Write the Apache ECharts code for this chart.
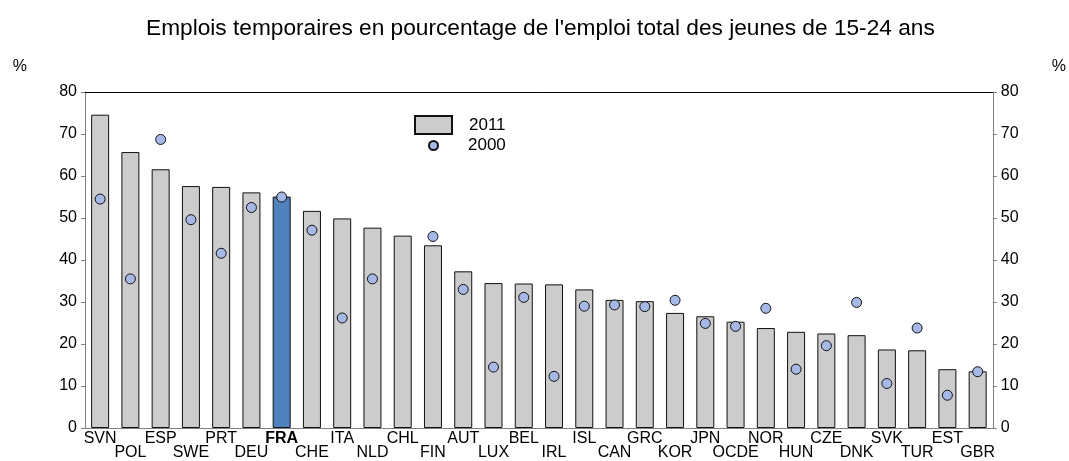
<!DOCTYPE html>
<html>
<head>
<meta charset="utf-8">
<script src="https://cdn.jsdelivr.net/npm/echarts@6/dist/echarts.min.js"></script>
<style>
  html, body { margin: 0; padding: 0; background: #fff; }
  #chart { width: 1069px; height: 461px; }
</style>
</head>
<body>
<div id="chart"></div>
<script>
// pays (OCDE = moyenne)
var countries = ['SVN', 'POL', 'ESP', 'SWE', 'PRT', 'DEU', 'FRA', 'CHE', 'ITA', 'NLD',
  'CHL', 'FIN', 'AUT', 'LUX', 'BEL', 'IRL', 'ISL', 'CAN', 'GRC', 'KOR',
  'JPN', 'OCDE', 'NOR', 'HUN', 'CZE', 'DNK', 'SVK', 'TUR', 'EST', 'GBR'];

// 2011 (barres)
var values2011 = [74.6, 65.7, 61.6, 57.6, 57.4, 56.1, 55.1, 51.7, 49.9, 47.7,
  45.8, 43.5, 37.3, 34.5, 34.4, 34.2, 33.0, 30.5, 30.2, 27.4,
  26.6, 25.3, 23.8, 22.9, 22.5, 22.1, 18.7, 18.5, 14.0, 13.5];

// 2000 (points), pas de donnée pour le Chili
var values2000 = [54.5, 35.5, 68.7, 49.6, 41.6, 52.5, 55.0, 47.1, 26.2, 35.5,
  null, 45.6, 33.0, 14.5, 31.1, 12.3, 29.0, 29.3, 28.9, 30.4,
  24.9, 24.2, 28.5, 14.0, 19.6, 29.9, 10.6, 23.8, 7.8, 13.4];

var yTicks = { min: 0, max: 80, interval: 10 };

var highlight = 'FRA';

var myChart = echarts.init(document.getElementById('chart'));

var font = 'Liberation Sans, Arial, sans-serif';

// barres : la France en bleu
var barData = values2011.map(function (v, i) {
    if (countries[i] === highlight) {
        return { value: v, itemStyle: { color: '#4f81bd' } };
    }
    return v;
});

var dotData = values2000.map(function (v) {
    return v === null ? '-' : v;
});

function yAxisFor(pos) {
    return {
        type: 'value',
        position: pos,
        min: yTicks.min,
        max: yTicks.max,
        interval: yTicks.interval,
        name: '%',
        nameLocation: 'end',
        nameGap: 17,
        nameTextStyle: pos === 'left'
            ? { color: '#000', fontSize: 16, fontFamily: font, align: 'right', padding: [0, 58, 0, 0] }
            : { color: '#000', fontSize: 16, fontFamily: font, align: 'left', padding: [0, 0, 0, 59] },
        axisLine: { show: true, lineStyle: { color: '#808080', width: 1 } },
        axisTick: { show: true, inside: false, length: 4, lineStyle: { color: '#808080' } },
        axisLabel: { color: '#000', fontSize: 16, fontFamily: font, margin: 8 },
        splitLine: { show: false }
    };
}

var option = {
    animation: false,
    title: {
        text: "Emplois temporaires en pourcentage de l'emploi total des jeunes de 15-24 ans",
        left: 141,
        top: 12,
        textStyle: { color: '#000', fontSize: 22.7, fontWeight: 'normal', fontFamily: font }
    },
    legend: [
        {
            data: ['2011'],
            left: 414,
            top: 115,
            padding: 0,
            itemWidth: 37,
            itemHeight: 18,
            icon: 'rect',
            textStyle: { color: '#000', fontSize: 17, fontFamily: font, padding: [0, 0, 0, 12] }
        },
        {
            data: ['2000'],
            left: 428,
            top: 137,
            padding: 0,
            itemWidth: 9,
            itemHeight: 9,
            icon: 'circle',
            textStyle: { color: '#000', fontSize: 17, fontFamily: font, padding: [0, 0, 0, 25] }
        }
    ],
    grid: {
        left: 85,
        right: 75,
        top: 92,
        bottom: 32
    },
    xAxis: [
        {
            type: 'category',
            data: countries,
            axisLine: { show: true, lineStyle: { color: '#808080' } },
            axisTick: { show: false },
            axisLabel: {
                interval: 0,
                margin: 4,
                color: '#000',
                fontSize: 16,
                fontFamily: font,
                lineHeight: 14,
                verticalAlign: 'top',
                // étiquettes en quinconce
                formatter: function (v, i) {
                    var t = v === highlight ? '{b|' + v + '}' : v;
                    return i % 2 ? '\n' + t : t;
                },
                rich: {
                    b: { fontWeight: 'bold', fontSize: 16, fontFamily: font, lineHeight: 14, color: '#000' }
                }
            }
        },
        {
            // trait du haut du cadre
            type: 'category',
            position: 'top',
            data: countries,
            axisLine: { show: true, onZero: false, lineStyle: { color: '#000' } },
            axisTick: { show: false },
            axisLabel: { show: false }
        }
    ],
    yAxis: [yAxisFor('left'), yAxisFor('right')],
    series: [
        {
            name: '2011',
            type: 'bar',
            barWidth: 18,
            data: barData,
            itemStyle: { color: '#cccccc', borderColor: '#111', borderWidth: 1 }
        },
        {
            name: '2000',
            type: 'scatter',
            symbol: 'circle',
            symbolSize: 10,
            data: dotData,
            z: 3,
            itemStyle: { color: '#a6b9e6', borderColor: '#111', borderWidth: 1, opacity: 1 }
        }
    ]
};

myChart.setOption(option);
</script>
</body>
</html>
